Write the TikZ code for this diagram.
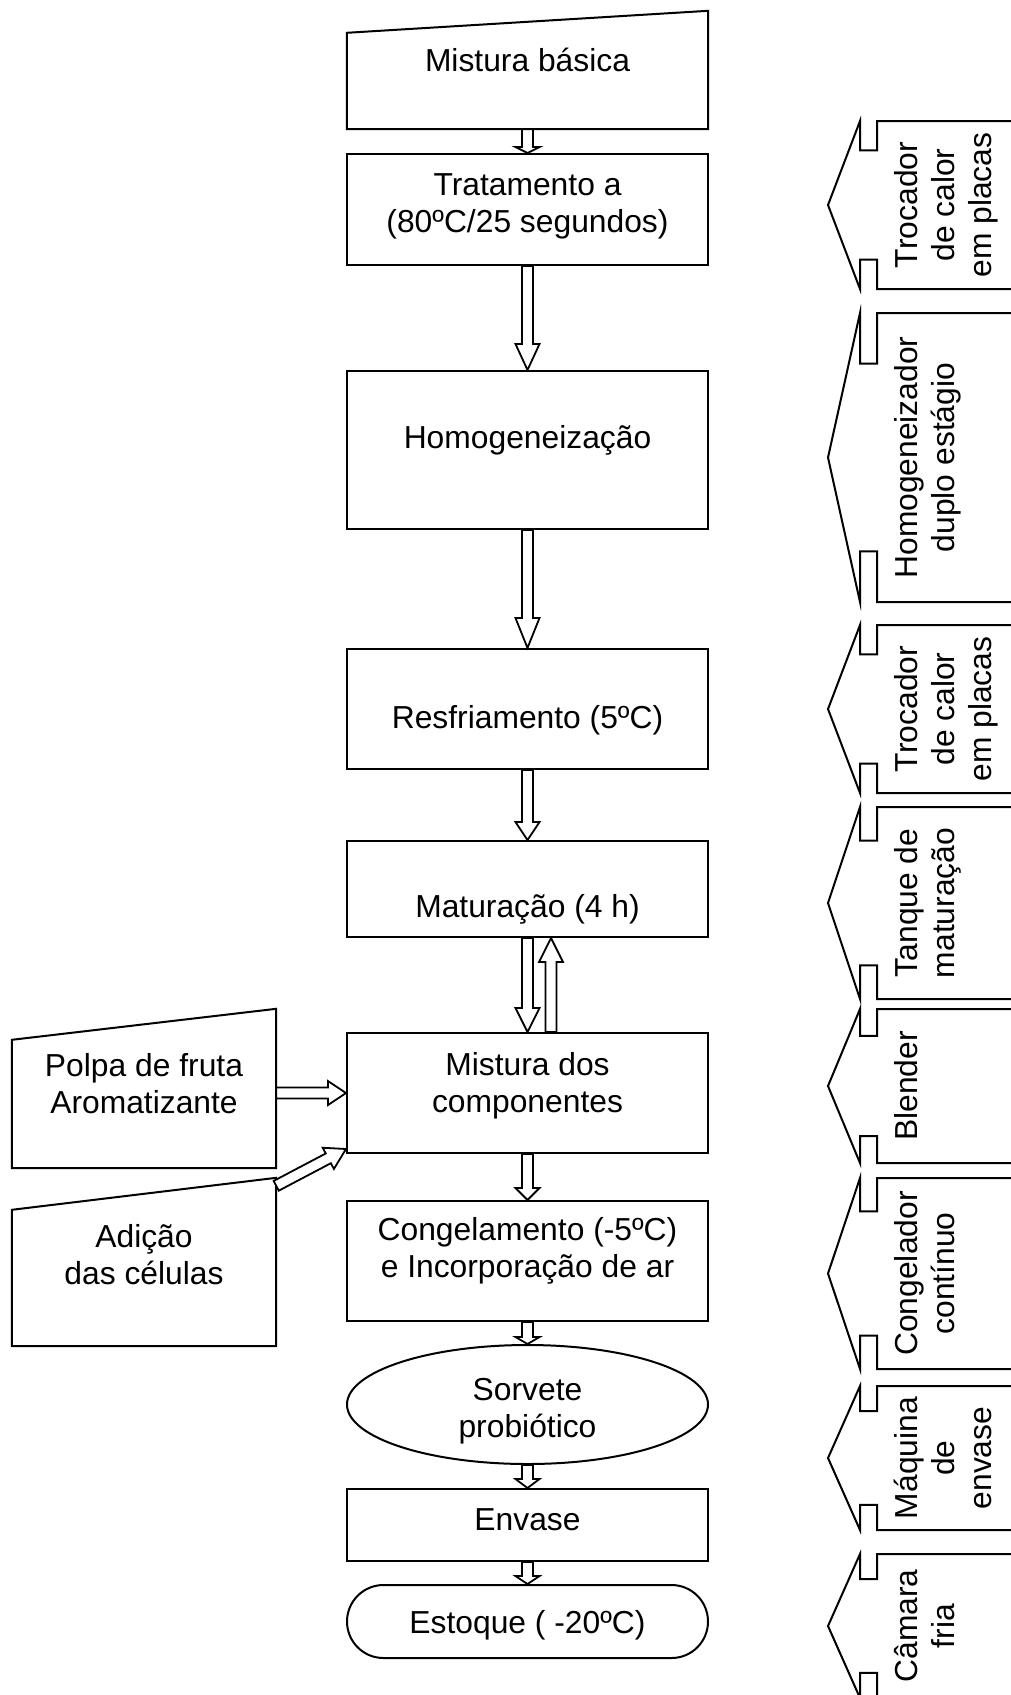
\documentclass[tikz,border=0pt]{standalone}
\usepackage{fontspec}
\setmainfont{Liberation Sans}
\usetikzlibrary{calc,shapes.geometric}

\tikzset{
  stage/.style={draw, line width=2pt, rectangle, inner sep=0pt, minimum width=361pt},
  slantframe/.style={rectangle, inner sep=0pt},
  edgeline/.style={draw, line width=2pt, line join=miter},
  txt/.style={font=\fontsize{31.8}{37}\selectfont, align=center, inner sep=0pt, anchor=base},
  barrow/.style={draw, fill=white, line width=1.8pt, line join=miter},
}

% hollow block arrow from #1 to #2 with head length #3
\newcommand\blockarrow[3]{%
  \coordinate (ba-h) at ($(#2)!#3!(#1)$);
  \draw[barrow] ($(#1)!5.5pt!90:(#2)$) -- ($(ba-h)!5.5pt!-90:(#1)$)
    -- ($(ba-h)!12pt!-90:(#1)$) -- (#2) -- ($(ba-h)!12pt!90:(#1)$)
    -- ($(ba-h)!5.5pt!90:(#1)$) -- ($(#1)!5.5pt!-90:(#2)$) -- cycle;
}

% equipment callout on the right: top #1, bottom #2, name #3,
% baseline of the last text line #4, text #5
\newcommand\equipment[5]{%
  \pgfmathsetmacro\cnotch{0.175*(#2-#1)}%
  \pgfmathsetmacro\cmid{(#1+#2)/2}%
  \draw[edgeline] (1011,#1) -- (877,#1) -- (877,{#1+\cnotch}) -- (860,{#1+\cnotch})
    -- (860,#1) -- (828,\cmid) -- (860,#2) -- (860,{#2-\cnotch})
    -- (877,{#2-\cnotch}) -- (877,#2) -- (1011,#2);
  \node[txt, rotate=90] (#3) at (#4,\cmid) {#5};
}

\begin{document}
\begin{tikzpicture}[x=1pt,y=-1pt]
\useasboundingbox (0,0) rectangle (1011,1695);

% main process column
\node[slantframe, minimum width=361pt, minimum height=118pt] (b1) at (527.5,70) {};
\draw[edgeline] (b1.south west) -- (b1.south east) -- (b1.north east)
  -- ($(b1.north west)+(0,22)$) -- cycle;
\node[txt] (t1) at (527.5,71) {Mistura básica};

\node[stage, minimum height=111pt] (b2) at (527.5,209.5) {};
\node[txt] (t2) at (527.5,232) {Tratamento a\\(80ºC/25 segundos)};

\node[stage, minimum height=158pt] (b3) at (527.5,450) {};
\node[txt] (t3) at (527.5,448) {Homogeneização};

\node[stage, minimum height=120pt] (b4) at (527.5,709) {};
\node[txt] (t4) at (527.5,728) {Resfriamento (5ºC)};

\node[stage, minimum height=96pt] (b5) at (527.5,889) {};
\node[txt] (t5) at (527.5,917) {Maturação (4 h)};

\node[stage, minimum height=120pt] (b6) at (527.5,1093) {};
\node[txt] (t6) at (527.5,1112) {Mistura dos\\componentes};

\node[stage, minimum height=120pt] (b7) at (527.5,1261) {};
\node[txt] (t7) at (527.5,1277) {Congelamento (-5ºC)\\e Incorporação de ar};

\node[stage, ellipse, minimum height=119pt] (b8) at (527.5,1404.5) {};
\node[txt] (t8) at (527.5,1437) {Sorvete\\probiótico};

\node[stage, minimum height=72pt] (b9) at (527.5,1525) {};
\node[txt] (t9) at (527.5,1530) {Envase};

\node[stage, rounded corners=36.5pt, minimum height=73pt] (b10) at (527.5,1621.5) {};
\node[txt] (t10) at (527.5,1633) {Estoque ( -20ºC)};

% side inputs
\node[slantframe, minimum width=264pt, minimum height=159pt] (in1) at (144,1088.5) {};
\draw[edgeline] (in1.south west) -- (in1.south east) -- (in1.north east)
  -- ($(in1.north west)+(0,31)$) -- cycle;
\node[txt] (ti1) at (144,1113) {Polpa de fruta\\Aromatizante};

\node[slantframe, minimum width=264pt, minimum height=168pt] (in2) at (144,1262) {};
\draw[edgeline] (in2.south west) -- (in2.south east) -- (in2.north east)
  -- ($(in2.north west)+(0,32)$) -- cycle;
\node[txt] (ti2) at (144,1284) {Adição\\das células};

% flow arrows
\blockarrow{b1.south}{b2.north}{6pt}
\blockarrow{b2.south}{b3.north}{26pt}
\blockarrow{b3.south}{b4.north}{30pt}
\blockarrow{b4.south}{b5.north}{18pt}
\blockarrow{b5.south}{b6.north}{24pt}
\coordinate (ret-s) at ($(b6.north)+(23.5,0)$);
\coordinate (ret-e) at ($(b5.south)+(23.5,0)$);
\blockarrow{ret-s}{ret-e}{24pt}
\blockarrow{b6.south}{b7.north}{12pt}
\blockarrow{b7.south}{b8.north}{7pt}
\blockarrow{b8.south}{b9.north}{9pt}
\blockarrow{b9.south}{b10.north}{8pt}
\coordinate (in1-out) at (in1.east |- b6.west);
\blockarrow{in1-out}{b6.west}{18pt}
\coordinate (in2-out) at ($(in2.north east)+(0,8)$);
\coordinate (b6-in) at ($(b6.south west)+(0,-5)$);
\blockarrow{in2-out}{b6-in}{20pt}

% equipment used at each stage
\equipment{121}{289}{e1}{991}{Trocador\\de calor\\em placas}
\equipment{313}{602}{e2}{954}{Homogeneizador\\duplo estágio}
\equipment{625}{793}{e3}{991}{Trocador\\de calor\\em placas}
\equipment{807}{999}{e4}{954}{Tanque de\\maturação}
\equipment{1009}{1163}{e5}{917}{Blender}
\equipment{1178}{1369}{e6}{954}{Congelador\\contínuo}
\equipment{1386}{1530}{e7}{991}{Máquina\\de\\envase}
\equipment{1554}{1698}{e8}{954}{Câmara\\fria}
\end{tikzpicture}
\end{document}
